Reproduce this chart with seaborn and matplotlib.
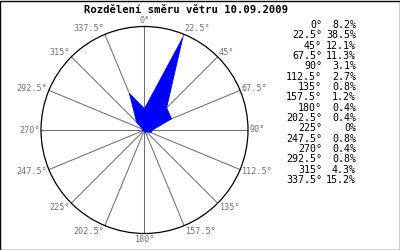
import numpy as np
import matplotlib
matplotlib.use("Agg")
import matplotlib.pyplot as plt
import seaborn as sns
import pandas as pd

directions = [0, 22.5, 45, 67.5, 90, 112.5, 135, 157.5, 180, 202.5, 225, 247.5, 270, 292.5, 315, 337.5]
dir_labels = ["0°", "22.5°", "45°", "67.5°", "90°", "112.5°", "135°", "157.5°", "180°",
              "202.5°", "225°", "247.5°", "270°", "292.5°", "315°", "337.5°"]
percent = [8.2, 38.5, 12.1, 11.3, 3.1, 2.7, 0.8, 1.2, 0.4, 0.4, 0.0, 0.8, 0.4, 0.8, 4.3, 15.2]
pct_labels = ["8.2%", "38.5%", "12.1%", "11.3%", "3.1%", "2.7%", "0.8%", "1.2%", "0.4%",
              "0.4%", "0%", "0.8%", "0.4%", "0.8%", "4.3%", "15.2%"]
title = "Rozdělení směru větru 10.09.2009"
rmax = 40

sns.set_style("white")
plt.rcParams['font.family'] = ['DejaVu Sans Mono', 'DejaVu Sans']

fig = plt.figure(figsize=(4, 2.5), dpi=100)
fig.patch.set_facecolor("white")

ax = fig.add_axes([0.1025, 0.066, 0.5175, 0.828], projection="polar")
ax.set_theta_zero_location("N")
ax.set_theta_direction(-1)
ax.set_ylim(0, rmax)
ax.set_yticks([])

theta = np.deg2rad(directions)
df = pd.DataFrame({"theta": list(theta) + [theta[0] + 2 * np.pi],
                   "r": percent + [percent[0]]})
ax.fill(df["theta"], df["r"], color="#0000ff", zorder=3, linewidth=0)
sns.lineplot(data=df, x="theta", y="r", ax=ax, sort=False, color="#0000ff",
             linewidth=0.6, zorder=4, estimator=None)
ax.set_xlabel("")
ax.set_ylabel("")

ax.set_xticks(theta)
ax.set_xticklabels([])
ax.tick_params(axis="x", length=0, pad=0)
ax.xaxis.grid(True, color="#707070", linewidth=0.75)
ax.yaxis.grid(False)
ax.spines["polar"].set_color("black")
ax.spines["polar"].set_linewidth(0.9)

for th, lab in zip(theta, dir_labels):
    s, c = np.sin(th), np.cos(th)
    if s > 0.05:
        ha = "left"
    elif s < -0.05:
        ha = "right"
    else:
        ha = "center"
    ax.annotate(lab, xy=(th, rmax), xytext=(1.0 * s, 4.2 * c), textcoords="offset points",
                ha=ha, va="center", fontsize=6.1, color="#707070",
                annotation_clip=False)

fig.text(0.466, 0.96, title, ha="center", va="center", fontsize=7.6,
         fontweight="bold", color="black")

y0 = 250 - 25
step = 10.33
for i, (dl, pl) in enumerate(zip(dir_labels, pct_labels)):
    y = (y0 - i * step) / 250
    fig.text(322 / 400, y, dl, ha="right", va="center", fontsize=7.2, color="black")
    fig.text(356 / 400, y, pl, ha="right", va="center", fontsize=7.2, color="black")

fig.add_artist(plt.Rectangle((0.0012, 0.002), 0.9976, 0.996, transform=fig.transFigure,
                             fill=False, edgecolor="black", linewidth=1.0))

fig.savefig("out.png", dpi=100, facecolor="white")
